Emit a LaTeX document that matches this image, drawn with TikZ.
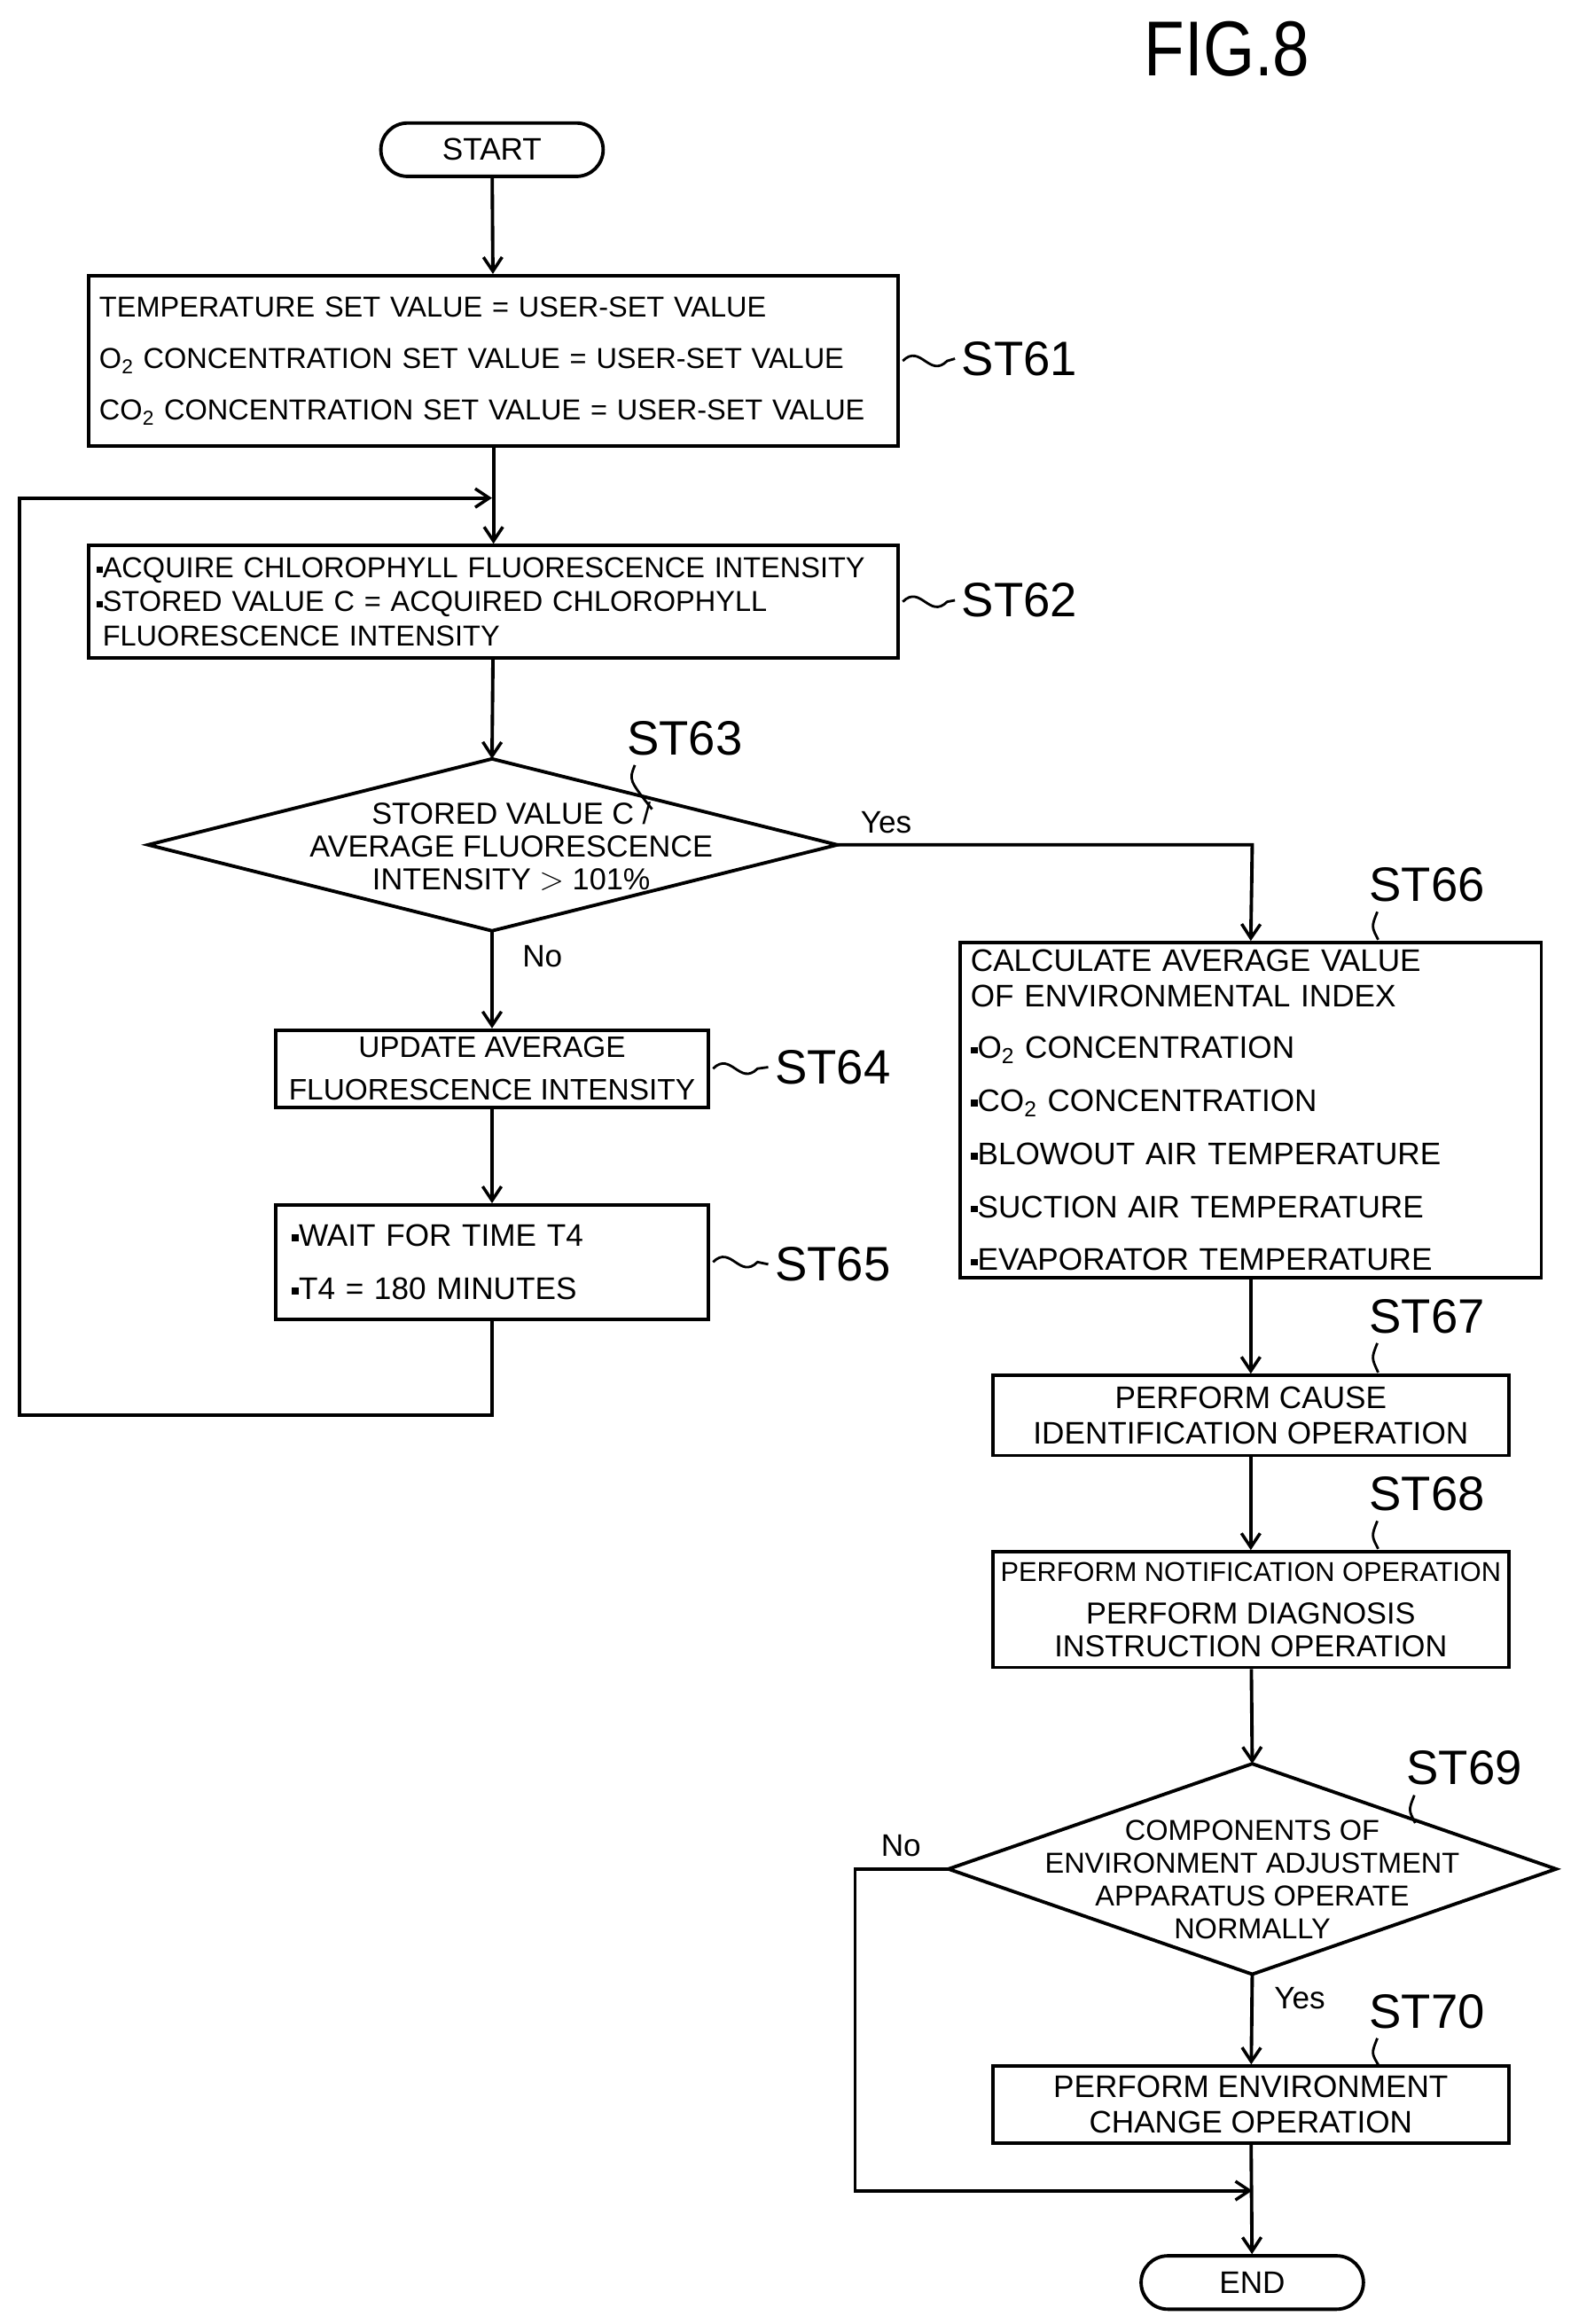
\documentclass[tikz,border=0pt]{standalone}
\usepackage{fontspec}
\setmainfont{Liberation Sans}
\usetikzlibrary{arrows.meta}
\def\U{0.03343cm}
\newcommand\bul{\raisebox{0.3ex}{\rule{0.22em}{0.22em}}}
\begin{document}
\begin{tikzpicture}[x=0.03343cm,y=-0.03343cm,line width=2.2pt,
  box/.style={draw,inner sep=0pt,font=\fontsize{19.5}{24}\selectfont},
  term/.style={draw,rounded corners=18*\U,minimum width=150*\U,minimum height=36*\U,font=\fontsize{20}{24}\selectfont},
  lab/.style={font=\fontsize{31}{36}\selectfont},
  yn/.style={font=\fontsize{20}{24}\selectfont},
  txt/.style={font=\fontsize{19.5}{21}\selectfont,align=center,inner sep=0pt},
  arr/.style={-{Straight Barb[length=9pt,width=12pt,line width=2pt]}}]
\useasboundingbox (0,0) rectangle (1060,1568);
\node[font=\fontsize{50}{56}\selectfont,xscale=0.85] (fig) at (828,33) {FIG.8};
\node[term] (start) at (332,101) {START};
\node[box,minimum width=546*\U,minimum height=115*\U,text width=532*\U,align=left,font=\fontsize{18.5}{33}\selectfont] (s61) at (333,243.5)
  {\mbox{TEMPERATURE SET VALUE = USER-SET VALUE}\\ \mbox{O\textsubscript{2} CONCENTRATION SET VALUE = USER-SET VALUE}\\ \mbox{CO\textsubscript{2} CONCENTRATION SET VALUE = USER-SET VALUE}};
\node[box,minimum width=546*\U,minimum height=76*\U,text width=536*\U,align=left,font=\fontsize{18.5}{22}\selectfont] (s62) at (333,406)
  {\mbox{\bul ACQUIRE CHLOROPHYLL FLUORESCENCE INTENSITY}\\ \mbox{\bul STORED VALUE C = ACQUIRED CHLOROPHYLL}\\ \mbox{\phantom{\bul}FLUORESCENCE INTENSITY}};
% diamond 63
\coordinate (d63t) at (332,512); \coordinate (d63b) at (332,628);
\coordinate (d63l) at (100,570); \coordinate (d63r) at (565,570);
\draw (d63t)--(d63r)--(d63b)--(d63l)--cycle;
\node[txt] (d63) at (345,571) {STORED VALUE C /\\ AVERAGE FLUORESCENCE\\ INTENSITY $>$ 101\%};
\node[box,minimum width=292*\U,minimum height=52*\U,align=center,font=\fontsize{19}{27}\selectfont] (s64) at (332,721) {UPDATE AVERAGE\\ FLUORESCENCE INTENSITY};
\node[box,minimum width=292*\U,minimum height=77*\U,text width=270*\U,align=left,font=\fontsize{20}{34}\selectfont] (s65) at (332,851.5) {\bul WAIT FOR TIME T4\\ \bul T4 = 180 MINUTES};
\node[box,minimum width=392*\U,minimum height=226*\U,text width=378*\U,align=left,font=\fontsize{20}{23}\selectfont] (s66) at (844,749)
  {CALCULATE AVERAGE VALUE\\ OF ENVIRONMENTAL INDEX\\[10pt] \bul O\textsubscript{2} CONCENTRATION\\[11pt] \bul CO\textsubscript{2} CONCENTRATION\\[11pt] \bul BLOWOUT AIR TEMPERATURE\\[11pt] \bul SUCTION AIR TEMPERATURE\\[11pt] \bul EVAPORATOR TEMPERATURE};
\node[box,minimum width=348*\U,minimum height=54*\U,align=center,font=\fontsize{20}{23}\selectfont] (s67) at (844,955) {PERFORM CAUSE\\ IDENTIFICATION OPERATION};
\node[box,minimum width=348*\U,minimum height=78*\U,align=center,font=\fontsize{19.5}{21}\selectfont] (s68) at (844,1086) {\fontsize{17.5}{21}\selectfont PERFORM NOTIFICATION OPERATION\\[6pt] PERFORM DIAGNOSIS\\ INSTRUCTION OPERATION};
% diamond 69
\coordinate (d69t) at (845,1190); \coordinate (d69b) at (845,1332);
\coordinate (d69l) at (640,1261); \coordinate (d69r) at (1050,1261);
\draw (d69t)--(d69r)--(d69b)--(d69l)--cycle;
\node[txt,font=\fontsize{18.5}{21}\selectfont] (d69) at (845,1268) {COMPONENTS OF\\ ENVIRONMENT ADJUSTMENT\\ APPARATUS OPERATE\\ NORMALLY};
\node[box,minimum width=348*\U,minimum height=52*\U,align=center,font=\fontsize{20}{23}\selectfont] (s70) at (844,1420) {PERFORM ENVIRONMENT\\ CHANGE OPERATION};
\node[term] (end) at (845,1540) {END};
% connectors
\draw[arr] (start) -- (s61);
\draw[arr] (s61) -- (s62);
\draw[arr] (s62) -- (d63t);
\draw[arr] (d63b) -- (s64);
\draw[arr] (s64) -- (s65);
\coordinate (lp1) at (332,955); \coordinate (lp2) at (13,955);
\coordinate (lp3) at (13,336); \coordinate (lp4) at (332,336);
\draw[arr] (s65.south) -- (lp1) -- (lp2) -- (lp3) -- (lp4);
\coordinate (yes1) at (845,570);
\draw[arr] (d63r) -- (yes1) -- (s66.north);
\draw[arr] (s66) -- (s67);
\draw[arr] (s67) -- (s68);
\draw[arr] (s68) -- (d69t);
\draw[arr] (d69b) -- (s70);
\draw[arr] (s70) -- (end);
\coordinate (no1) at (577,1261); \coordinate (no2) at (577,1478); \coordinate (no3) at (845,1478);
\draw[arr] (d69l) -- (no1) -- (no2) -- (no3);
\node[yn] (y1) at (598,555) {Yes};
\node[yn] (n1) at (366,645) {No};
\node[yn] (n2) at (608,1245) {No};
\node[yn] (y2) at (877,1348) {Yes};
% step labels
\node[lab] (l61) at (688,242) {ST61};
\node[lab] (l62) at (688,405) {ST62};
\node[lab] (l63) at (462,498) {ST63};
\node[lab] (l64) at (562,720) {ST64};
\node[lab] (l65) at (562,853) {ST65};
\node[lab] (l66) at (963,597) {ST66};
\node[lab] (l67) at (963,888) {ST67};
\node[lab] (l68) at (963,1008) {ST68};
\node[lab] (l69) at (988,1193) {ST69};
\node[lab] (l70) at (963,1357) {ST70};
\tikzset{sq/.style={line width=1.6pt}}
\draw[sq] (s61.east) ++(2,0) .. controls +(12,-12) and +(-12,12) .. ++(30,0) -- (l61.west);
\draw[sq] (s62.east) ++(2,0) .. controls +(12,-12) and +(-12,12) .. ++(30,0) -- (l62.west);
\draw[sq] (s64.east) ++(2,0) .. controls +(12,-12) and +(-12,12) .. ++(30,0) -- (l64.west);
\draw[sq] (s65.east) ++(2,0) .. controls +(12,-12) and +(-12,12) .. ++(30,0) -- (l65.west);
\draw[sq] (l63.south west) ++(10,2) .. controls +(-4,10) .. (440,546);
\draw[sq] (l66.south west) ++(10,2) .. controls +(-4,10) .. (930,634);
\draw[sq] (l67.south west) ++(10,2) .. controls +(-4,10) .. (930,926);
\draw[sq] (l68.south west) ++(10,2) .. controls +(-4,10) .. (930,1045);
\draw[sq] (l69.south west) ++(10,2) .. controls +(-4,10) .. (955,1230);
\draw[sq] (l70.south west) ++(10,2) .. controls +(-4,10) .. (930,1393);
\end{tikzpicture}
\end{document}
